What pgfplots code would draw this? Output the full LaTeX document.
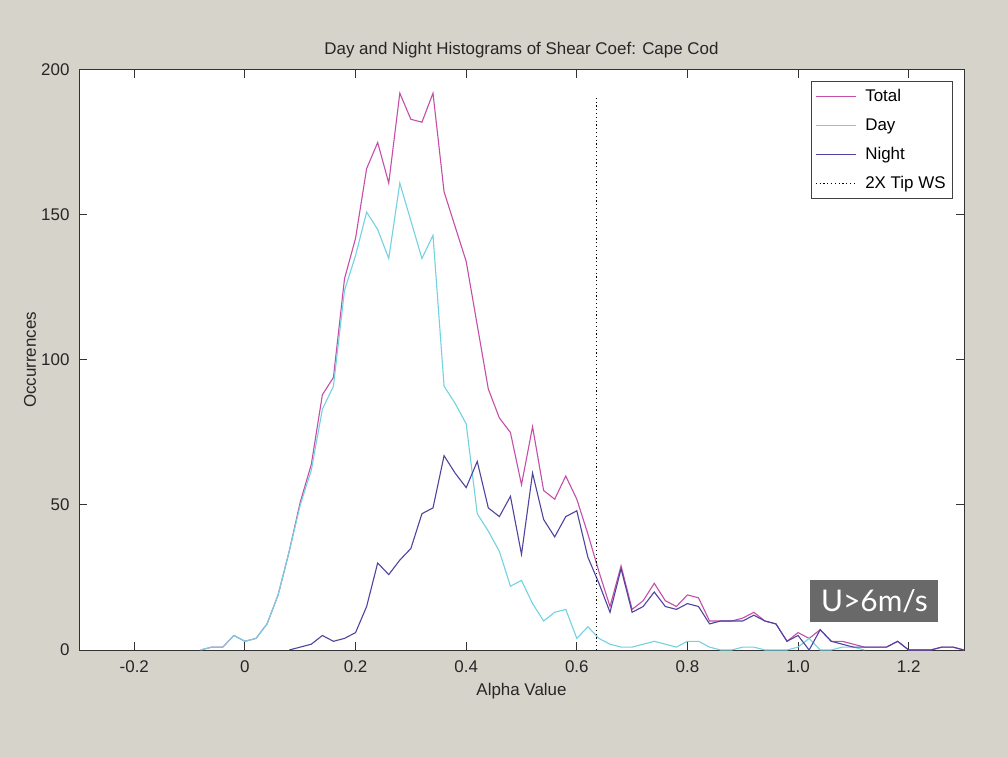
\documentclass[border=0pt]{standalone}
\usepackage{pgfplots}
\usepackage{pgfplotstable}
\pgfplotsset{compat=1.18}
\usepackage{fontspec}
\setmainfont{Liberation Sans}
\newfontfamily\boxfont{Lato}
\definecolor{bg}{RGB}{214,211,203}
\definecolor{ctotal}{RGB}{198,78,168}
\definecolor{cday}{RGB}{115,210,225}
\definecolor{cnight}{RGB}{78,68,160}
\definecolor{boxgray}{RGB}{105,105,105}

\pgfplotstableread{
x total
-0.08 0
-0.06 1
-0.04 1
-0.02 5
0.00 3
0.02 4
0.04 9
0.06 19
0.08 34
0.10 51
0.12 64
0.14 88
0.16 94
0.18 128
0.20 142
0.22 166
0.24 175
0.26 161
0.28 192
0.30 183
0.32 182
0.34 192
0.36 158
0.38 146
0.40 134
0.42 112
0.44 90
0.46 80
0.48 75
0.50 57
0.52 77
0.54 55
0.56 52
0.58 60
0.60 52
0.62 40
0.64 27
0.66 15
0.68 29
0.70 14
0.72 17
0.74 23
0.76 17
0.78 15
0.80 19
0.82 18
0.84 10
0.86 10
0.88 10
0.90 11
0.92 13
0.94 10
0.96 9
0.98 3
1.00 6
1.02 4
1.04 7
1.06 3
1.08 3
1.10 2
1.12 1
1.14 1
1.16 1
1.18 3
1.20 0
1.22 0
1.24 0
1.26 1
1.28 1
1.30 0
}\totaltable

\pgfplotstableread{
x day
-0.08 0
-0.06 1
-0.04 1
-0.02 5
0.00 3
0.02 4
0.04 9
0.06 19
0.08 34
0.10 50
0.12 62
0.14 83
0.16 91
0.18 124
0.20 136
0.22 151
0.24 145
0.26 135
0.28 161
0.30 148
0.32 135
0.34 143
0.36 91
0.38 85
0.40 78
0.42 47
0.44 41
0.46 34
0.48 22
0.50 24
0.52 16
0.54 10
0.56 13
0.58 14
0.60 4
0.62 8
0.64 4
0.66 2
0.68 1
0.70 1
0.72 2
0.74 3
0.76 2
0.78 1
0.80 3
0.82 3
0.84 1
0.86 0
0.88 0
0.90 1
0.92 1
0.94 0
0.96 0
0.98 0
1.00 1
1.02 4
1.04 0
1.06 0
1.08 1
1.10 1
1.12 0
}\daytable

\pgfplotstableread{
x night
0.08 0
0.10 1
0.12 2
0.14 5
0.16 3
0.18 4
0.20 6
0.22 15
0.24 30
0.26 26
0.28 31
0.30 35
0.32 47
0.34 49
0.36 67
0.38 61
0.40 56
0.42 65
0.44 49
0.46 46
0.48 53
0.50 33
0.52 61
0.54 45
0.56 39
0.58 46
0.60 48
0.62 32
0.64 23
0.66 13
0.68 28
0.70 13
0.72 15
0.74 20
0.76 15
0.78 14
0.80 16
0.82 15
0.84 9
0.86 10
0.88 10
0.90 10
0.92 12
0.94 10
0.96 9
0.98 3
1.00 5
1.02 0
1.04 7
1.06 3
1.08 2
1.10 1
1.12 1
1.14 1
1.16 1
1.18 3
1.20 0
1.22 0
1.24 0
1.26 1
1.28 1
1.30 0
}\nighttable

\pgfplotstableread{
x v
0.635 0
0.635 191
}\tiptable

\begin{document}
\begin{tikzpicture}
\fill[bg] (-79bp,-107bp) rectangle (929bp,650bp);
\begin{axis}[
  at={(0bp,0bp)}, anchor=south west,
  scale only axis, width=885bp, height=580bp,
  xmin=-0.3, xmax=1.3, ymin=0, ymax=200,
  axis background/.style={fill=white},
  axis line style={black!80, line width=1bp},
  tick align=inside, major tick length=8bp,
  tick style={black!80, line width=1bp},
  xtick={-0.2,0,0.2,0.4,0.6,0.8,1.0,1.2},
  xticklabels={-0.2,0,0.2,0.4,0.6,0.8,1.0,1.2},
  ytick={0,50,100,150,200},
  yticklabels={0,50,100,150,200},
  ticklabel style={font=\fontsize{17}{20}\selectfont, text=black!85},
  xticklabel style={anchor=base, yshift=-22bp},
  yticklabel style={anchor=east, xshift=-6bp},
  title={Day and Night Histograms of Shear Coef: Cape Cod},
  title style={at={(axis description cs:0.5,1.0172)}, anchor=base, font=\fontsize{17}{20}\selectfont, text=black!85},
  xlabel={Alpha Value},
  xlabel style={at={(axis description cs:0.5,-0.0793)}, anchor=base, font=\fontsize{17}{20}\selectfont, text=black!85},
  ylabel={Occurrences},
  ylabel style={at={(axis description cs:-0.0486,0.5)}, anchor=base, font=\fontsize{17}{20}\selectfont, text=black!85},
  legend style={at={(axis description cs:1,1)}, anchor=north east, xshift=-11bp, yshift=-11bp,
    draw=black!75, line width=0.8bp, fill=white, font=\fontsize{17}{20}\selectfont,
    inner xsep=4bp, inner ysep=4bp, row sep=7bp,
    nodes={inner sep=3bp, text height=13bp, text depth=3bp},
    cells={anchor=west}},
  legend image code/.code={\draw[#1] (0bp,0bp) -- (40bp,0bp); \path (46bp,0bp);},
]
\addplot[ctotal, line width=1.1bp] table[x=x, y=total] {\totaltable};
\addlegendentry{Total}
\addplot[cday, line width=1.1bp] table[x=x, y=day] {\daytable};
\addlegendentry{Day}
\addplot[cnight, line width=1.1bp] table[x=x, y=night] {\nighttable};
\addlegendentry{Night}
\addplot[black, line width=1bp, dash pattern=on 1.2bp off 2.6bp] table[x=x, y=v] {\tiptable};
\addlegendentry{2X Tip WS}
\node[fill=boxgray, text=white, minimum width=128bp, minimum height=42bp, inner sep=0pt,
  font=\boxfont\fontsize{30}{30}\selectfont] at (axis cs:1.138,16.9) {U>6m/s};
\end{axis}
\end{tikzpicture}
\end{document}
